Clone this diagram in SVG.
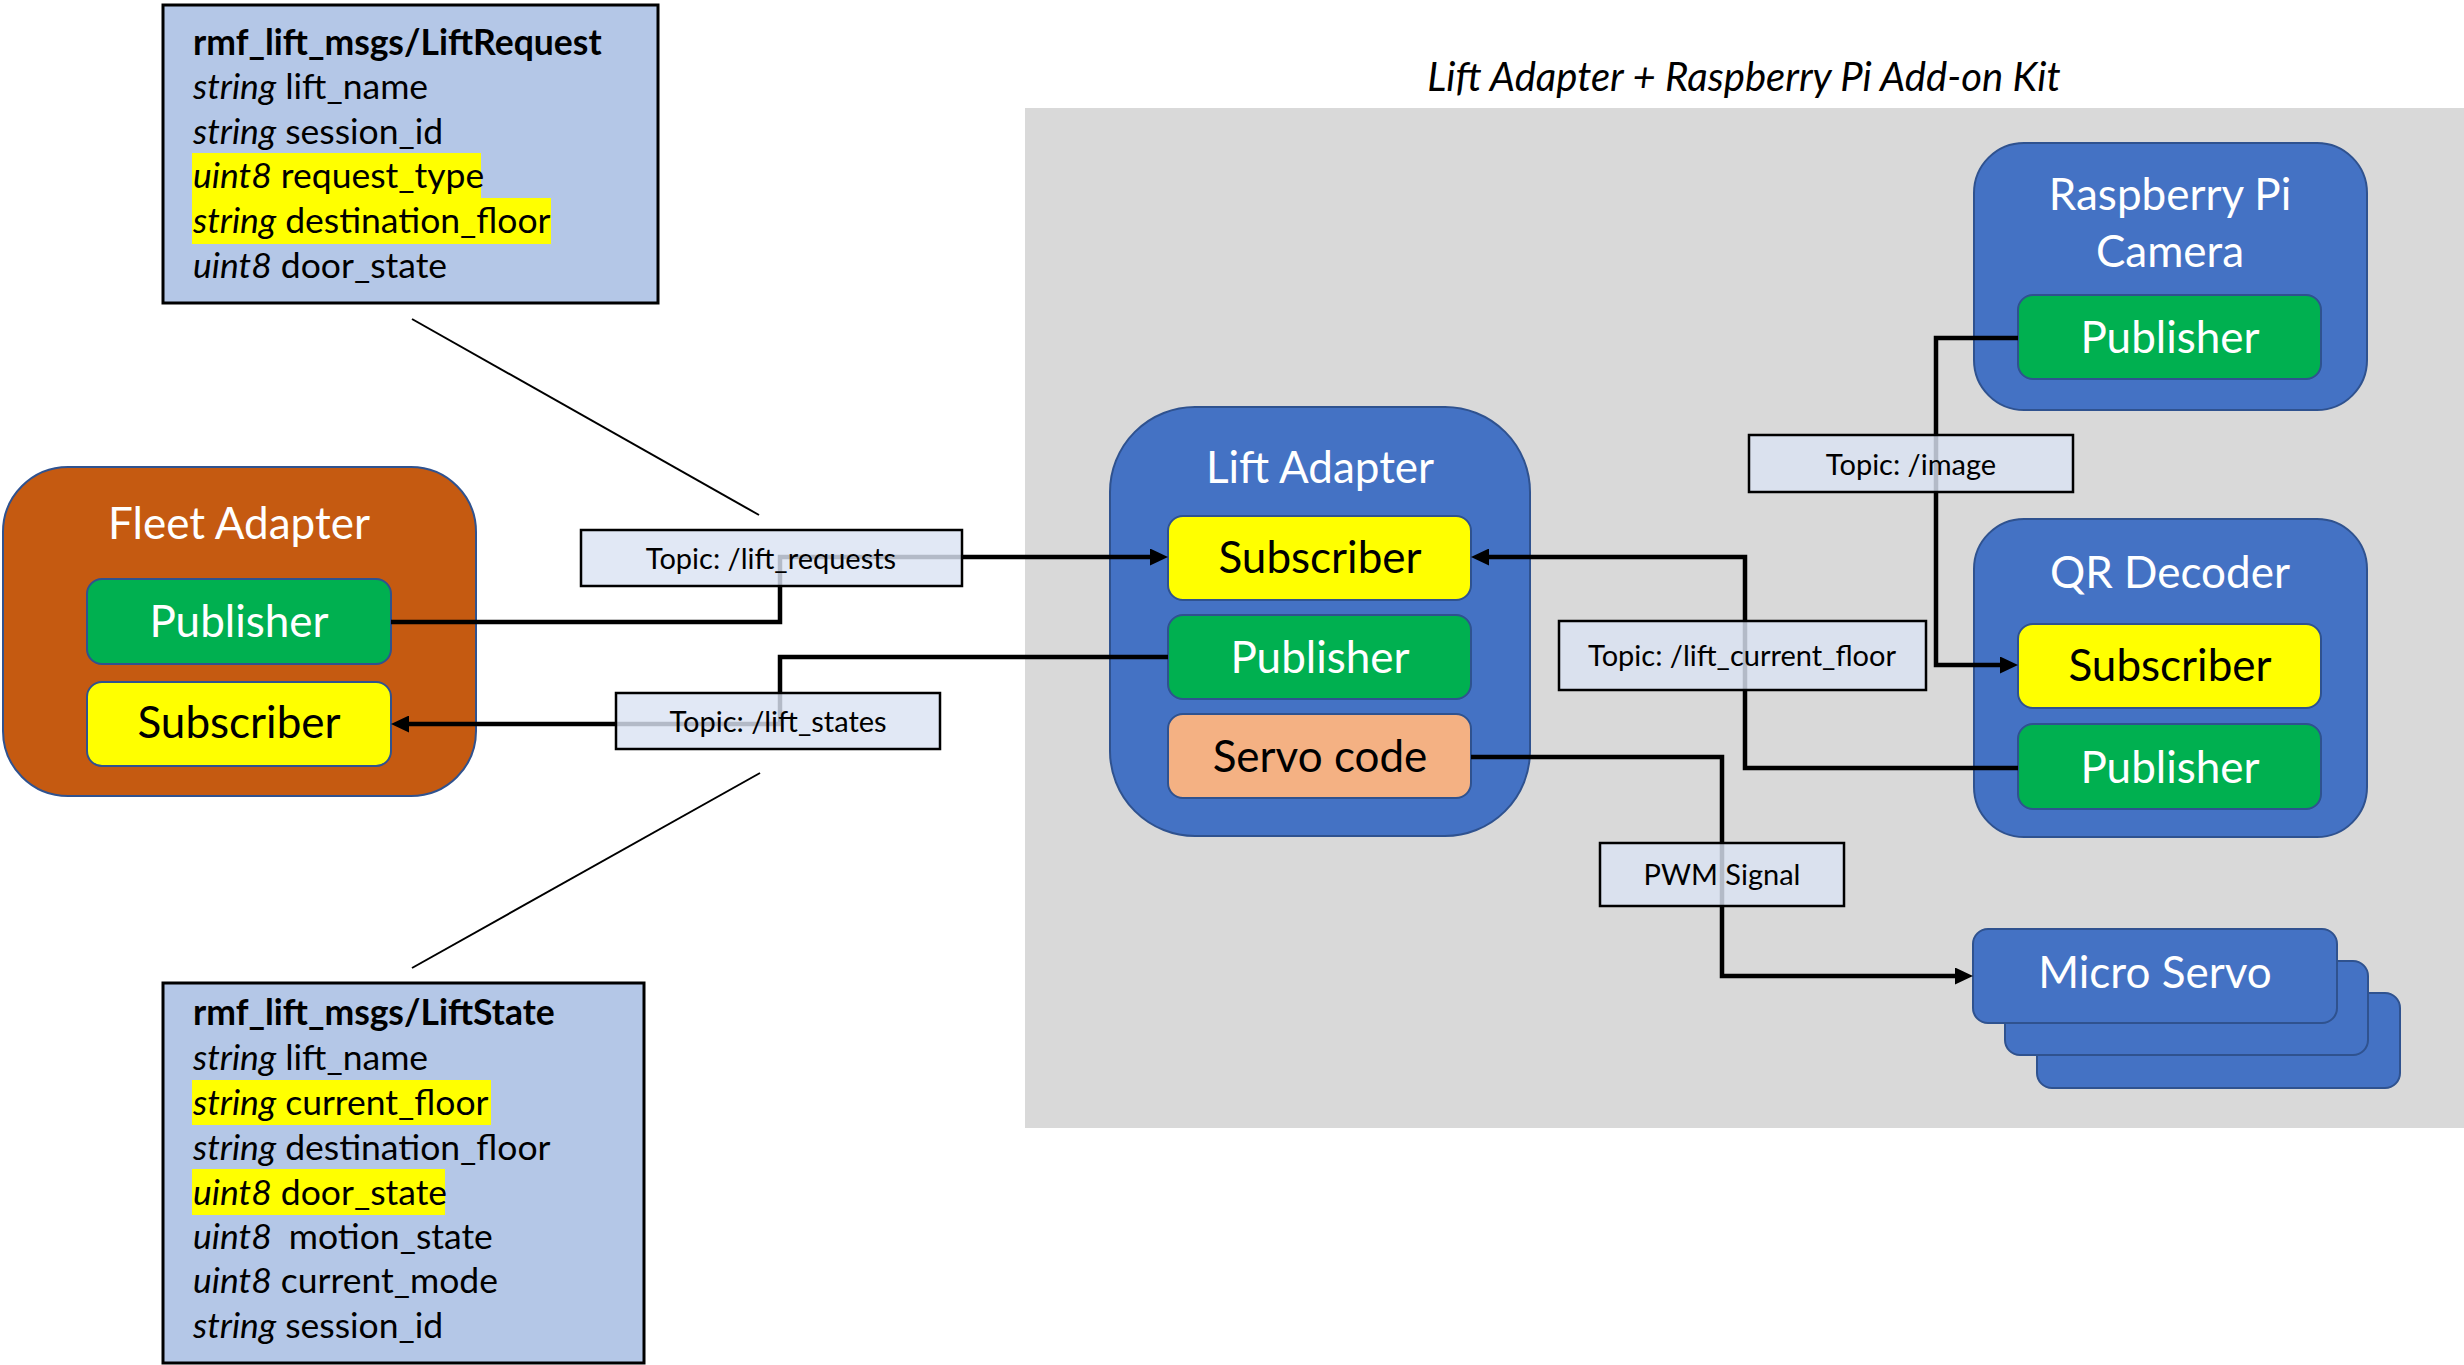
<svg xmlns="http://www.w3.org/2000/svg" width="2464" height="1365" viewBox="0 0 2464 1365">
  <defs>
    <marker id="arrow" viewBox="0 0 18 17" refX="8" refY="8.5" markerWidth="18" markerHeight="17" markerUnits="userSpaceOnUse" orient="auto">
      <path d="M0,0 L18,8.5 L0,17 z" fill="#000"/>
    </marker>
    <style>
      text { font-family: Lato, "Open Sans", "Liberation Sans", sans-serif; }
      .node-blue { fill: #4472C4; stroke: #2F528F; stroke-width: 2; }
      .node-orange { fill: #C55A11; stroke: #2F528F; stroke-width: 2; }
      .pub { fill: #00B050; stroke: #2F528F; stroke-width: 2; }
      .sub { fill: #FFFF00; stroke: #2F528F; stroke-width: 2; }
      .servo { fill: #F4B183; stroke: #2F528F; stroke-width: 2; }
      .title-w { fill: #fff; font-size: 44px; text-anchor: middle; }
      .lbl-w { fill: #fff; font-size: 44px; text-anchor: middle; }
      .lbl-k { fill: #000; font-size: 44px; text-anchor: middle; }
      .wire { fill: none; stroke: #000; stroke-width: 4.5; }
      .topic-box { fill: #DAE3F3; fill-opacity: 0.82; stroke: #000; stroke-width: 2.5; }
      .topic-txt { fill: #000; font-size: 29px; text-anchor: middle; }
      .msg-box { fill: #B4C7E7; stroke: #000; stroke-width: 3; }
      .msg { fill: #000; font-size: 35.5px; }
      .msg-head { font-weight: bold; }
      .hl { fill: #FFFF00; }
      .it { font-style: italic; }
      .callout { stroke: #000; stroke-width: 2; }
    </style>
  </defs>

  <rect width="2464" height="1365" fill="#fff"/>

  <!-- add-on kit panel -->
  <g id="kit-panel">
    <rect x="1025" y="108" width="1439" height="1020" fill="#D9D9D9"/>
    <text x="1744" y="91" font-size="40" font-style="italic" text-anchor="middle" fill="#000">Lift Adapter + Raspberry Pi Add-on Kit</text>
  </g>

  <!-- callout lines to message definitions -->
  <g id="callouts">
    <line class="callout" x1="412" y1="319" x2="759" y2="515"/>
    <line class="callout" x1="760" y1="773" x2="412" y2="968"/>
  </g>

  <!-- LiftRequest message -->
  <g id="msg-lift-request">
    <rect class="msg-box" x="163" y="5" width="495" height="298"/>
    <rect class="hl" x="192" y="153" width="289" height="45"/>
    <rect class="hl" x="192" y="198" width="359" height="46"/>
    <text class="msg msg-head" x="193" y="55">rmf_lift_msgs/LiftRequest</text>
    <text class="msg" x="193" y="99"><tspan class="it">string</tspan> lift_name</text>
    <text class="msg" x="193" y="144"><tspan class="it">string</tspan> session_id</text>
    <text class="msg" x="193" y="188"><tspan class="it">uint8</tspan> request_type</text>
    <text class="msg" x="193" y="233"><tspan class="it">string</tspan> destination_floor</text>
    <text class="msg" x="193" y="278"><tspan class="it">uint8</tspan> door_state</text>
  </g>

  <!-- LiftState message -->
  <g id="msg-lift-state">
    <rect class="msg-box" x="163" y="983" width="481" height="380"/>
    <rect class="hl" x="192" y="1080" width="299" height="45"/>
    <rect class="hl" x="192" y="1169" width="253" height="46"/>
    <text class="msg msg-head" x="193" y="1025">rmf_lift_msgs/LiftState</text>
    <text class="msg" x="193" y="1070"><tspan class="it">string</tspan> lift_name</text>
    <text class="msg" x="193" y="1115"><tspan class="it">string</tspan> current_floor</text>
    <text class="msg" x="193" y="1160"><tspan class="it">string</tspan> destination_floor</text>
    <text class="msg" x="193" y="1205"><tspan class="it">uint8</tspan> door_state</text>
    <text class="msg" x="193" y="1249"><tspan class="it">uint8</tspan><tspan dx="8"> motion_state</tspan></text>
    <text class="msg" x="193" y="1293"><tspan class="it">uint8</tspan> current_mode</text>
    <text class="msg" x="193" y="1338"><tspan class="it">string</tspan> session_id</text>
  </g>

  <!-- Fleet Adapter -->
  <g id="fleet-adapter">
    <rect class="node-orange" x="3" y="467" width="473" height="329" rx="65"/>
    <text class="title-w" x="239" y="539">Fleet Adapter</text>
    <rect class="pub" x="87" y="579" width="304" height="85" rx="15"/>
    <text class="lbl-w" x="239" y="637">Publisher</text>
    <rect class="sub" x="87" y="682" width="304" height="84" rx="15"/>
    <text class="lbl-k" x="239" y="738">Subscriber</text>
  </g>

  <!-- Lift Adapter -->
  <g id="lift-adapter">
    <rect class="node-blue" x="1110" y="407" width="420" height="429" rx="85"/>
    <text class="title-w" x="1320" y="483">Lift Adapter</text>
    <rect class="sub" x="1168" y="516" width="303" height="84" rx="15"/>
    <text class="lbl-k" x="1320" y="573">Subscriber</text>
    <rect class="pub" x="1168" y="615" width="303" height="84" rx="15"/>
    <text class="lbl-w" x="1320" y="673">Publisher</text>
    <rect class="servo" x="1168" y="714" width="303" height="84" rx="15"/>
    <text class="lbl-k" x="1320" y="772">Servo code</text>
  </g>

  <!-- Raspberry Pi Camera -->
  <g id="rpi-camera">
    <rect class="node-blue" x="1974" y="143" width="393" height="267" rx="50"/>
    <text class="title-w" x="2170" y="210">Raspberry Pi</text>
    <text class="title-w" x="2170" y="267">Camera</text>
    <rect class="pub" x="2018" y="295" width="303" height="84" rx="15"/>
    <text class="lbl-w" x="2170" y="353">Publisher</text>
  </g>

  <!-- QR Decoder -->
  <g id="qr-decoder">
    <rect class="node-blue" x="1974" y="519" width="393" height="318" rx="50"/>
    <text class="title-w" x="2170" y="588">QR Decoder</text>
    <rect class="sub" x="2018" y="624" width="303" height="84" rx="15"/>
    <text class="lbl-k" x="2170" y="681">Subscriber</text>
    <rect class="pub" x="2018" y="724" width="303" height="85" rx="15"/>
    <text class="lbl-w" x="2170" y="783">Publisher</text>
  </g>

  <!-- Micro Servo (stack) -->
  <g id="micro-servo">
    <rect class="node-blue" x="2037" y="993" width="363" height="95" rx="15"/>
    <rect class="node-blue" x="2005" y="961" width="363" height="94" rx="15"/>
    <rect class="node-blue" x="1973" y="929" width="364" height="94" rx="15"/>
    <text class="lbl-w" x="2155" y="988">Micro Servo</text>
  </g>

  <!-- connectors -->
  <g id="connectors">
    <path class="wire" d="M391,622 H780 V557 H1158" marker-end="url(#arrow)"/>
    <path class="wire" d="M1168,657 H780 V724 H401" marker-end="url(#arrow)"/>
    <path class="wire" d="M2018,338 H1936 V665 H2008" marker-end="url(#arrow)"/>
    <path class="wire" d="M2018,768 H1745 V557 H1481" marker-end="url(#arrow)"/>
    <path class="wire" d="M1471,757 H1722 V976 H1963" marker-end="url(#arrow)"/>

    <g id="label-lift-requests">
      <rect class="topic-box" x="581" y="530" width="381" height="56"/>
      <text class="topic-txt" x="771" y="569">Topic: /lift_requests</text>
    </g>
    <g id="label-lift-states">
      <rect class="topic-box" x="616" y="693" width="324" height="56"/>
      <text class="topic-txt" x="778" y="732">Topic: /lift_states</text>
    </g>
    <g id="label-image">
      <rect class="topic-box" x="1749" y="435" width="324" height="57"/>
      <text class="topic-txt" x="1911" y="475">Topic: /image</text>
    </g>
    <g id="label-lift-current-floor">
      <rect class="topic-box" x="1559" y="621" width="367" height="69"/>
      <text class="topic-txt" x="1742" y="666">Topic: /lift_current_floor</text>
    </g>
    <g id="label-pwm">
      <rect class="topic-box" x="1600" y="843" width="244" height="63"/>
      <text class="topic-txt" x="1722" y="885">PWM Signal</text>
    </g>
  </g>
</svg>
